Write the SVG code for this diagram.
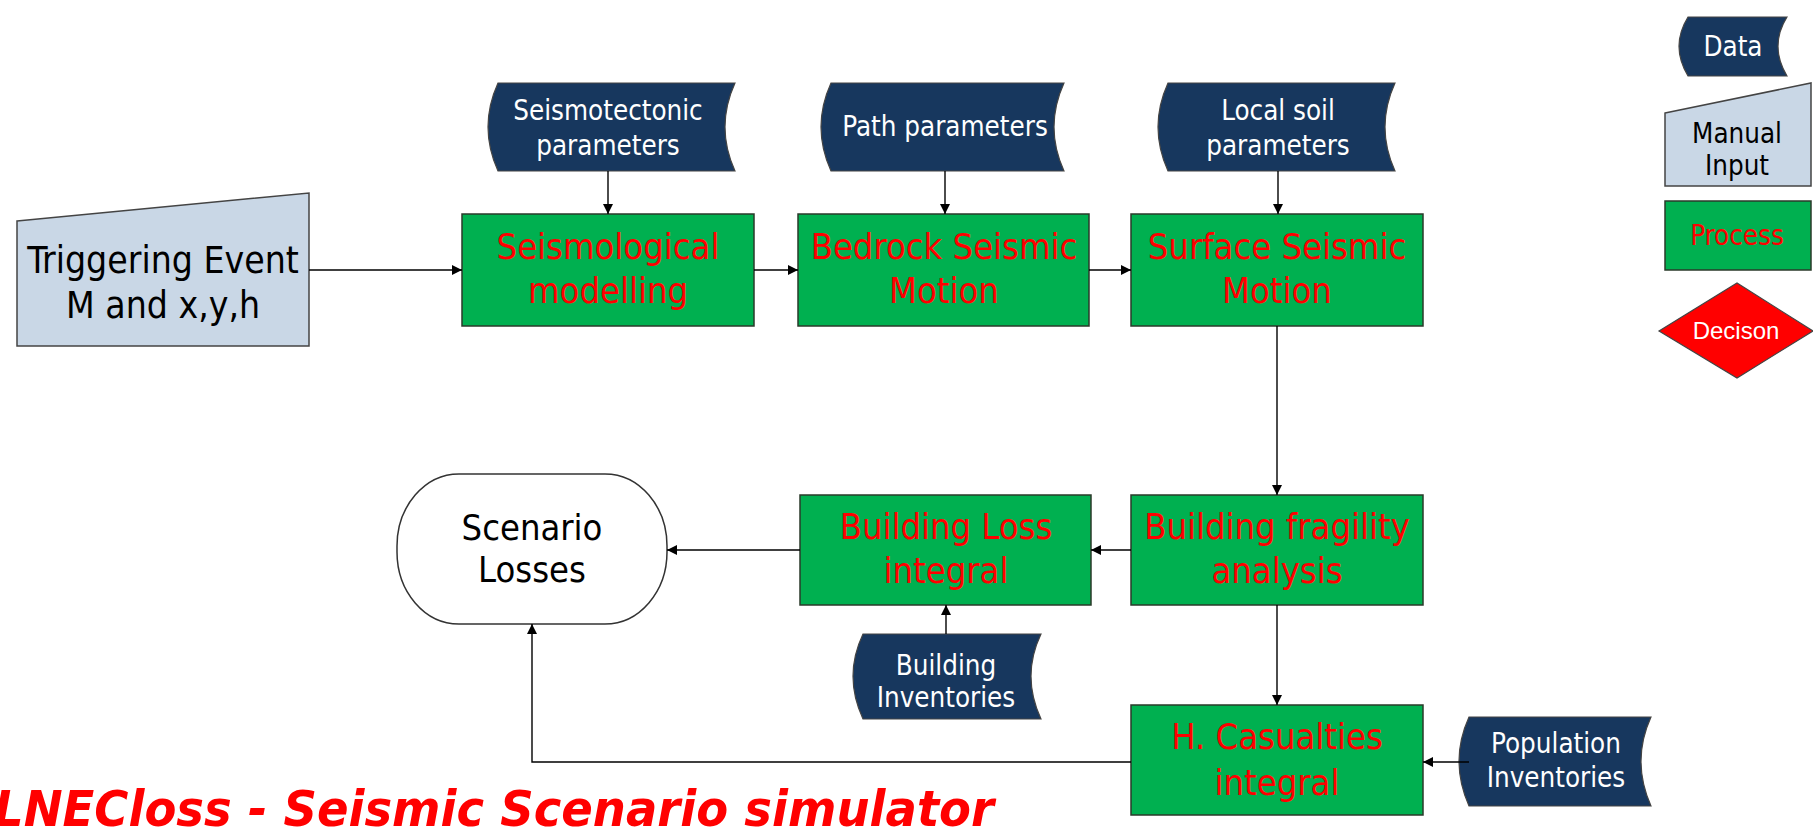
<svg xmlns="http://www.w3.org/2000/svg" width="1813" height="830" viewBox="0 0 1813 830">
<defs>
<marker id="ah" viewBox="0 0 10 10" refX="10" refY="5" markerWidth="10" markerHeight="10" markerUnits="userSpaceOnUse" orient="auto">
<path d="M0,0 L10,5 L0,10 z" fill="#000"/>
</marker>
<style>
.proc{fill:#00b050;stroke:#2a3a2a;stroke-width:1.5}
.data{fill:#17375e;stroke:#444;stroke-width:1.2}
.man{fill:#c9d7e6;stroke:#444;stroke-width:1.5}
.t{font-family:'DejaVu Sans Condensed','DejaVu Sans',sans-serif;font-stretch:condensed;text-anchor:middle}
.pt{fill:#ff0000;font-size:36px}
.dt{fill:#ffffff;font-size:27.5px}
.bt{fill:#000;font-size:37px}
.sc{fill:#000;font-size:36px}
.lg{font-size:27.5px}
.con{fill:none;stroke:#000;stroke-width:1.4;marker-end:url(#ah)}
</style>
</defs>
<rect width="1813" height="830" fill="#fff"/>

<g id="trigger">
<polygon class="man" points="17,221 309,193 309,346 17,346"/>
<text class="t bt" x="163" y="273">Triggering Event</text>
<text class="t bt" x="163" y="318">M and x,y,h</text>
</g>

<g id="seismotectonic">
<path class="data" d="M498,83 L735,83 Q715,127 735,171 L498,171 Q478,127 498,83 Z"/>
<text class="t dt" x="608" y="120">Seismotectonic</text>
<text class="t dt" x="608" y="155">parameters</text>
</g>

<g id="path">
<path class="data" d="M831,83 L1064,83 Q1044,127 1064,171 L831,171 Q811,127 831,83 Z"/>
<text class="t dt" x="945" y="136">Path parameters</text>
</g>

<g id="localsoil">
<path class="data" d="M1168,83 L1395,83 Q1375,127 1395,171 L1168,171 Q1148,127 1168,83 Z"/>
<text class="t dt" x="1278" y="120">Local soil</text>
<text class="t dt" x="1278" y="155">parameters</text>
</g>

<g id="seismological">
<rect class="proc" x="462" y="214" width="292" height="112"/>
<text class="t pt" x="608" y="259">Seismological</text>
<text class="t pt" x="608" y="303">modelling</text>
</g>

<g id="bedrock">
<rect class="proc" x="798" y="214" width="291" height="112"/>
<text class="t pt" x="944" y="259">Bedrock Seismic</text>
<text class="t pt" x="944" y="303">Motion</text>
</g>

<g id="surface">
<rect class="proc" x="1131" y="214" width="292" height="112"/>
<text class="t pt" x="1277" y="259">Surface Seismic</text>
<text class="t pt" x="1277" y="303">Motion</text>
</g>

<g id="fragility">
<rect class="proc" x="1131" y="495" width="292" height="110"/>
<text class="t pt" x="1277" y="539">Building fragility</text>
<text class="t pt" x="1277" y="583">analysis</text>
</g>

<g id="buildingloss">
<rect class="proc" x="800" y="495" width="291" height="110"/>
<text class="t pt" x="946" y="539">Building Loss</text>
<text class="t pt" x="946" y="583">integral</text>
</g>

<g id="scenario">
<rect x="397" y="474" width="270" height="150" rx="62" ry="72" fill="#fff" stroke="#333" stroke-width="1.5"/>
<text class="t sc" x="532" y="540">Scenario</text>
<text class="t sc" x="532" y="582">Losses</text>
</g>

<g id="buildinginv">
<path class="data" d="M863,634 L1041,634 Q1021,676 1041,719 L863,719 Q843,676 863,634 Z"/>
<text class="t dt" x="946" y="675">Building</text>
<text class="t dt" x="946" y="707">Inventories</text>
</g>

<g id="casualties">
<rect class="proc" x="1131" y="705" width="292" height="110"/>
<text class="t pt" x="1277" y="749">H. Casualties</text>
<text class="t pt" x="1277" y="795">integral</text>
</g>

<g id="popinv">
<path class="data" d="M1469,717 L1651,717 Q1631,761 1651,806 L1469,806 Q1449,761 1469,717 Z"/>
<text class="t dt" x="1556" y="753">Population</text>
<text class="t dt" x="1556" y="787">Inventories</text>
</g>

<g id="legend-data">
<path class="data" d="M1688,17 L1787,17 Q1769,46 1787,76 L1688,76 Q1670,46 1688,17 Z"/>
<text class="t dt lg" x="1733" y="56">Data</text>
</g>
<g id="legend-manual">
<polygon class="man" points="1665,113 1811,83 1811,186 1665,186"/>
<text class="t lg" x="1737" y="143" fill="#000">Manual</text>
<text class="t lg" x="1737" y="175" fill="#000">Input</text>
</g>
<g id="legend-process">
<rect class="proc" x="1665" y="201" width="146" height="69"/>
<text class="t lg" x="1737" y="245" fill="#ff0000">Process</text>
</g>
<g id="legend-decision">
<polygon points="1659,331 1737,283 1813,331 1737,378" fill="#ff0000" stroke="#444" stroke-width="1.2"/>
<text x="1736" y="339" font-family="'Liberation Sans',Arial,sans-serif" font-size="24" fill="#fff" text-anchor="middle">Decison</text>
</g>

<g id="connectors">
<line class="con" x1="309" y1="270" x2="462" y2="270"/>
<line class="con" x1="754" y1="270" x2="798" y2="270"/>
<line class="con" x1="1089" y1="270" x2="1131" y2="270"/>
<line class="con" x1="608" y1="171" x2="608" y2="214"/>
<line class="con" x1="945" y1="171" x2="945" y2="214"/>
<line class="con" x1="1278" y1="171" x2="1278" y2="214"/>
<line class="con" x1="1277" y1="326" x2="1277" y2="495"/>
<line class="con" x1="1131" y1="550" x2="1091" y2="550"/>
<line class="con" x1="800" y1="550" x2="667" y2="550"/>
<line class="con" x1="946" y1="634" x2="946" y2="605"/>
<line class="con" x1="1277" y1="605" x2="1277" y2="705"/>
<line class="con" x1="1469" y1="762" x2="1423" y2="762"/>
<polyline class="con" points="1131,762 532,762 532,624"/>
</g>

<g id="title">
<text x="-6" y="826" font-family="'DejaVu Sans',Verdana,sans-serif" font-weight="bold" font-style="italic" font-size="50" fill="#ff0000" textLength="1000" lengthAdjust="spacingAndGlyphs">LNECloss - Seismic Scenario simulator</text>
</g>
</svg>
